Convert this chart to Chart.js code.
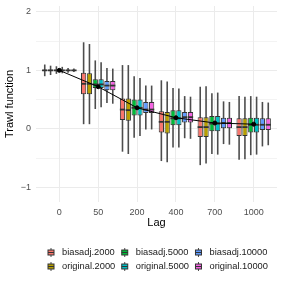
<!DOCTYPE html>
<html>
<head>
<meta charset="utf-8">
<script src="https://cdn.jsdelivr.net/npm/chart.js@4"></script>
<style>
  html, body { margin: 0; padding: 0; background: #fff; }
  #wrap { width: 284px; height: 284px; }
</style>
</head>
<body>
<div id="wrap"><canvas id="trawlChart" width="284" height="284"></canvas></div>
<script>
// Lag categories on the x-axis
const lags = ['0', '50', '200', '400', '700', '1000'];

// Series in dodge order (left to right inside each lag)
const seriesNames = ['biasadj.2000', 'original.2000', 'biasadj.5000', 'original.5000', 'biasadj.10000', 'original.10000'];
const seriesColors = ['#F8766D', '#B79F00', '#00BA38', '#00BFC4', '#619CFF', '#F564E3'];

// Box statistics, one row per series
const whiskerLow = [
  [0.90, 0.08, -0.39, -0.55, -0.62, -0.53],
  [0.92, 0.08, -0.43, -0.57, -0.59, -0.52],
  [0.94, 0.34, -0.15, -0.32, -0.43, -0.45],
  [0.95, 0.37, -0.12, -0.32, -0.44, -0.44],
  [0.96, 0.44, -0.01, -0.16, -0.26, -0.30],
  [0.97, 0.43, -0.01, -0.17, -0.27, -0.28]
];
const lowerQuartile = [
  [0.99, 0.59, 0.15, -0.06, -0.14, -0.12],
  [0.99, 0.59, 0.14, -0.08, -0.14, -0.12],
  [0.995, 0.70, 0.23, 0.06, -0.04, -0.06],
  [0.995, 0.70, 0.23, 0.06, -0.04, -0.06],
  [0.995, 0.66, 0.27, 0.11, 0.01, -0.02],
  [0.995, 0.66, 0.27, 0.11, 0.01, -0.02]
];
const medians = [
  [1.00, 0.77, 0.33, 0.12, 0.03, 0.03],
  [1.00, 0.77, 0.32, 0.12, 0.03, 0.03],
  [1.00, 0.76, 0.36, 0.18, 0.09, 0.07],
  [1.00, 0.76, 0.36, 0.18, 0.09, 0.07],
  [1.00, 0.74, 0.33, 0.20, 0.10, 0.07],
  [1.00, 0.74, 0.33, 0.20, 0.10, 0.07]
];
const upperQuartile = [
  [1.01, 0.96, 0.52, 0.30, 0.20, 0.18],
  [1.01, 0.95, 0.52, 0.29, 0.20, 0.18],
  [1.005, 0.85, 0.50, 0.32, 0.22, 0.19],
  [1.005, 0.85, 0.50, 0.32, 0.22, 0.19],
  [1.005, 0.82, 0.46, 0.29, 0.19, 0.18],
  [1.005, 0.82, 0.46, 0.29, 0.19, 0.18]
];
const whiskerHigh = [
  [1.10, 1.48, 1.09, 0.83, 0.72, 0.56],
  [1.08, 1.45, 1.09, 0.81, 0.73, 0.55],
  [1.07, 1.17, 0.90, 0.70, 0.61, 0.56],
  [1.06, 1.14, 0.87, 0.69, 0.62, 0.55],
  [1.04, 1.04, 0.74, 0.56, 0.47, 0.46],
  [1.03, 1.03, 0.74, 0.55, 0.46, 0.45]
];

// Theoretical trawl function (black line)
const theoretical = [1.00, 0.72, 0.36, 0.19, 0.10, 0.08];

// Legend order (row-wise, 3 columns)
const legendOrder = [0, 2, 4, 1, 3, 5];

const outline = '#333333';
const whiskerColor = '#4d4d4d';
const fontFamily = '"Liberation Sans", Arial, sans-serif';

// Build the bar datasets (boxes = floating bars from Q1 to Q3)
const boxDatasets = seriesNames.map((name, s) => ({
  type: 'bar',
  label: name,
  data: lags.map((lag, i) => ({ x: i, y: [lowerQuartile[s][i], upperQuartile[s][i]] })),
  backgroundColor: seriesColors[s],
  borderColor: outline,
  borderWidth: 1,
  borderSkipped: false,
  categoryPercentage: 0.9,
  barPercentage: 0.9,
  order: 1,
  stats: { lo: whiskerLow[s], med: medians[s], hi: whiskerHigh[s] }
}));

const lineDataset = {
  type: 'line',
  label: 'theory',
  data: theoretical.map((v, i) => ({ x: i, y: v })),
  borderColor: '#000000',
  backgroundColor: '#000000',
  borderWidth: 1,
  pointRadius: 2,
  pointHoverRadius: 2,
  order: 0
};

// Whiskers behind boxes, medians on top of each box, custom legend at the bottom
const boxplotPlugin = {
  id: 'boxplotParts',
  beforeDatasetsDraw(chart) {
    const ctx = chart.ctx;
    const yScale = chart.scales.y;
    ctx.save();
    ctx.strokeStyle = whiskerColor;
    ctx.lineWidth = 1.6;
    chart.data.datasets.forEach((ds, di) => {
      if (!ds.stats) return;
      const meta = chart.getDatasetMeta(di);
      meta.data.forEach((bar, i) => {
        ctx.beginPath();
        ctx.moveTo(bar.x, yScale.getPixelForValue(ds.stats.lo[i]));
        ctx.lineTo(bar.x, yScale.getPixelForValue(ds.stats.hi[i]));
        ctx.stroke();
      });
    });
    ctx.restore();
  },
  afterDatasetDraw(chart, args) {
    const ds = chart.data.datasets[args.index];
    if (!ds.stats) return;
    const ctx = chart.ctx;
    const yScale = chart.scales.y;
    ctx.save();
    ctx.strokeStyle = outline;
    ctx.lineWidth = 1.8;
    args.meta.data.forEach((bar, i) => {
      const y = yScale.getPixelForValue(ds.stats.med[i]);
      ctx.beginPath();
      ctx.moveTo(bar.x - bar.width / 2, y);
      ctx.lineTo(bar.x + bar.width / 2, y);
      ctx.stroke();
    });
    ctx.restore();
  },
  afterDraw(chart) {
    const ctx = chart.ctx;
    ctx.save();
    ctx.font = '9.3px ' + fontFamily;
    ctx.textBaseline = 'middle';
    ctx.fillStyle = '#1a1a1a';
    const rows = [252.5, 266.5];
    let keyX = 51;
    for (let c = 0; c < 3; c++) {
      const items = [legendOrder[c], legendOrder[c + 3]];
      let colW = 0;
      items.forEach((s, r) => {
        const y = rows[r];
        // small box glyph
        ctx.strokeStyle = whiskerColor;
        ctx.lineWidth = 1;
        ctx.beginPath();
        ctx.moveTo(keyX, y - 4.5);
        ctx.lineTo(keyX, y + 4.5);
        ctx.stroke();
        ctx.fillStyle = seriesColors[s];
        ctx.fillRect(keyX - 3, y - 2.5, 6, 5);
        ctx.strokeStyle = outline;
        ctx.strokeRect(keyX - 3, y - 2.5, 6, 5);
        ctx.beginPath();
        ctx.moveTo(keyX - 3, y);
        ctx.lineTo(keyX + 3, y);
        ctx.stroke();
        ctx.fillStyle = '#1a1a1a';
        ctx.fillText(seriesNames[s], keyX + 11, y);
        colW = Math.max(colW, ctx.measureText(seriesNames[s]).width);
      });
      keyX = keyX + 11 + colW + 9.5;
    }
    ctx.restore();
  }
};

const ctx = document.getElementById('trawlChart').getContext('2d');
const trawlChart = new Chart(ctx, {
  data: {
    datasets: [...boxDatasets, lineDataset]
  },
  options: {
    responsive: false,
    animation: false,
    layout: { padding: { left: 0, right: 7, top: 6, bottom: 52 } },
    plugins: {
      legend: { display: false },
      tooltip: { enabled: false }
    },
    scales: {
      x: {
        type: 'linear',
        min: -0.6,
        max: 5.6,
        offset: false,
        afterFit: s => { s.height = 30; s.paddingLeft = 0; s.paddingRight = 0; },
        border: { display: false },
        grid: { color: '#EBEBEB', lineWidth: 1, drawTicks: false, offset: false },
        ticks: {
          stepSize: 1,
          includeBounds: false,
          autoSkip: false,
          maxRotation: 0,
          padding: 5,
          color: '#4D4D4D',
          font: { family: fontFamily, size: 9 },
          callback: v => (Number.isInteger(v) && lags[v] !== undefined ? lags[v] : '')
        },
        title: {
          display: true,
          text: 'Lag',
          color: '#000000',
          font: { family: fontFamily, size: 11 },
          padding: { top: 0, bottom: 2 }
        }
      },
      y: {
        min: -1.25,
        max: 2.1,
        afterFit: s => { s.width = 36; s.paddingTop = 0; s.paddingBottom = 0; },
        border: { display: false },
        grid: {
          color: '#EBEBEB',
          drawTicks: false,
          lineWidth: c => (Number.isInteger(c.tick.value) ? 1 : 0.6)
        },
        ticks: {
          stepSize: 0.5,
          includeBounds: false,
          padding: 5,
          color: '#4D4D4D',
          font: { family: fontFamily, size: 9 },
          callback: v => (Number.isInteger(v) ? String(v).replace('-', '\u2212') : '')
        },
        title: {
          display: true,
          text: 'Trawl function',
          color: '#000000',
          font: { family: fontFamily, size: 11 },
          padding: { top: 3.5, bottom: 0 }
        }
      }
    }
  },
  plugins: [boxplotPlugin]
});
</script>
</body>
</html>
